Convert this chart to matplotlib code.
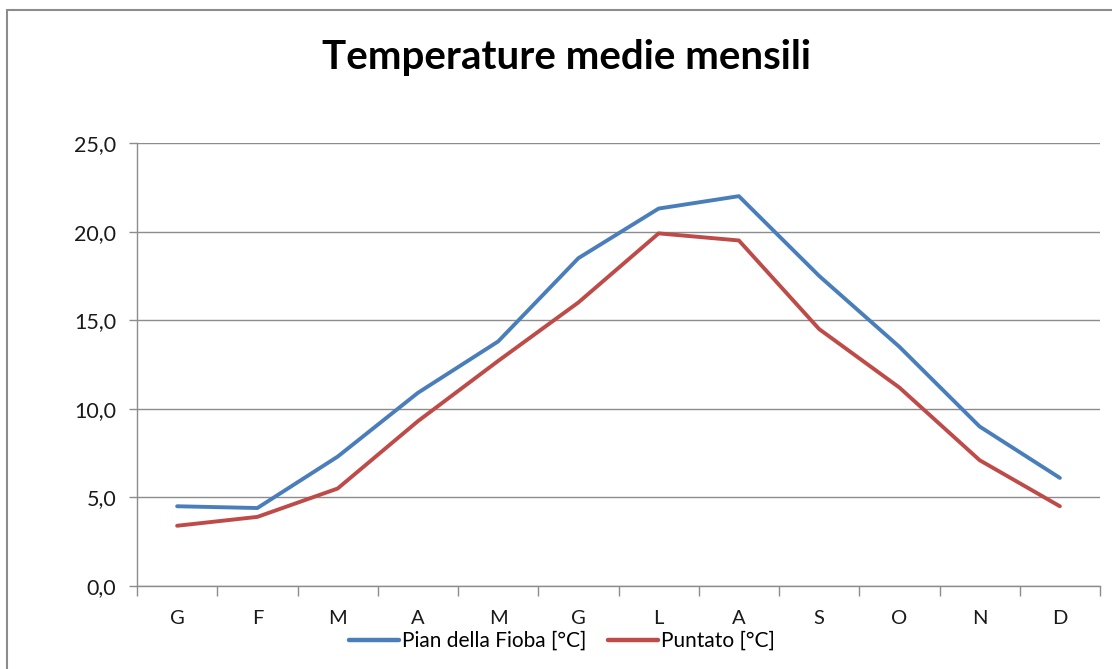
import matplotlib.pyplot as plt
from matplotlib.patches import Rectangle
from matplotlib.ticker import FuncFormatter, MultipleLocator
import numpy as np

plt.rcParams['font.family'] = ['Lato', 'DejaVu Sans']

mesi = ['G', 'F', 'M', 'A', 'M', 'G', 'L', 'A', 'S', 'O', 'N', 'D']
fioba = [4.5, 4.4, 7.3, 10.9, 13.8, 18.5, 21.3, 22.0, 17.5, 13.5, 9.0, 6.1]
puntato = [3.4, 3.9, 5.5, 9.3, 12.7, 16.0, 19.9, 19.5, 14.5, 11.2, 7.1, 4.5]

W, H = 1112, 669
fig = plt.figure(figsize=(W / 100, H / 100), dpi=100)
ax = fig.add_axes([137 / W, 1 - 586 / H, (1100 - 137) / W, (586 - 143) / H])

# cornice esterna del grafico (tagliata a destra e in basso)
fig.patches.append(Rectangle((7 / W, -0.1), 1.2, 1 - 10 / H + 0.1, transform=fig.transFigure,
                             fill=False, edgecolor='#8c8c8c', linewidth=1.5))

x = np.arange(len(mesi))
ax.plot(x, fioba, color='#4A7EBB', lw=2.8, label='Pian della Fioba [°C]', solid_capstyle='round')
ax.plot(x, puntato, color='#BE4B48', lw=2.8, label='Puntato [°C]', solid_capstyle='round')

ax.set_xlim(-0.5, len(mesi) - 0.5)
ax.set_ylim(0, 25)
ax.yaxis.set_major_locator(MultipleLocator(5))
ax.yaxis.set_major_formatter(FuncFormatter(lambda v, p: f'{v:.1f}'.replace('.', ',')))
ax.grid(axis='y', color='#8c8c8c', lw=1)
ax.set_axisbelow(True)

ax.set_xticks(x)
ax.set_xticklabels(mesi)
ax.set_xticks(np.arange(-0.5, len(mesi)), minor=True)
ax.tick_params(axis='x', which='major', length=0, pad=17, labelsize=14.5, labelcolor='#1a1a1a')
ax.tick_params(axis='x', which='minor', length=7, color='#8c8c8c', width=1)
ax.tick_params(axis='y', length=6, color='#8c8c8c', width=1, labelsize=15.5, pad=9,
               labelcolor='#1a1a1a')

for s in ['top', 'right']:
    ax.spines[s].set_visible(False)
for s in ['left', 'bottom']:
    ax.spines[s].set_color('#8c8c8c')
    ax.spines[s].set_linewidth(1)

fig.text(566 / W, 1 - 57 / H, 'Temperature medie mensili', ha='center', va='center',
         fontsize=29, fontweight='bold', color='black')

leg = fig.legend(loc='center', bbox_to_anchor=(562 / W, 1 - 641 / H), ncol=2, frameon=False,
                 fontsize=15, handlelength=2.4, handletextpad=0.15, columnspacing=1.0,
                 borderpad=0)
for h in leg.get_lines():
    h.set_linewidth(3.2)

fig.savefig('out.png', dpi=100)
